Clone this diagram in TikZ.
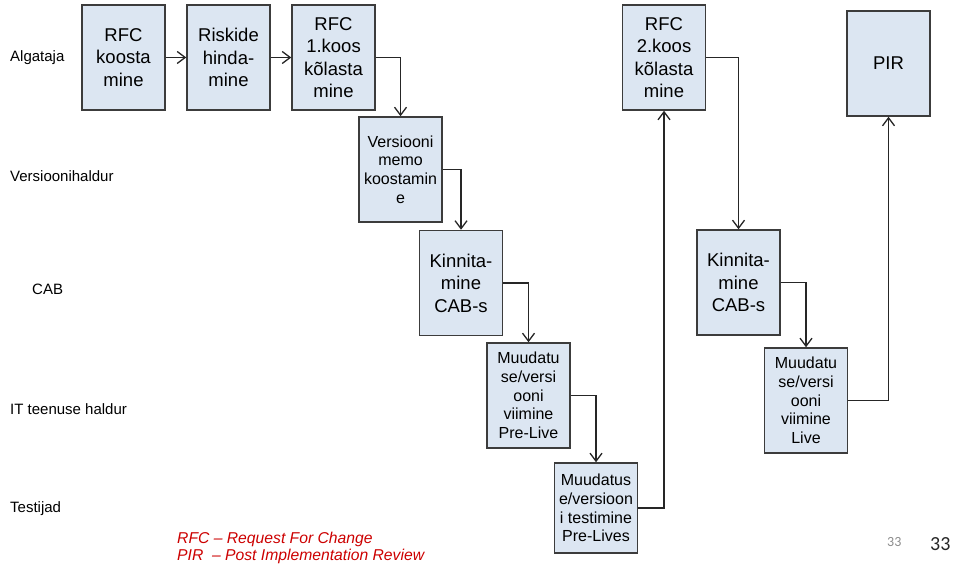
\documentclass[tikz,border=0pt]{standalone}
\usepackage{fontspec}
\setmainfont{Liberation Sans}
\newfontfamily\pagefont{Carlito}
\usetikzlibrary{arrows.meta}
\definecolor{boxfill}{RGB}{220,230,242}
\definecolor{boxline}{RGB}{60,60,60}
\definecolor{notered}{RGB}{204,0,0}
\begin{document}
\begin{tikzpicture}[x=1pt,y=-1pt,
  stepbox/.style={draw=boxline,line width=1.5pt,fill=boxfill,inner sep=0pt,
    minimum width=83pt,minimum height=105pt,align=center,
    font=\fontsize{18.5}{22.5}\selectfont},
  smallbox/.style={stepbox,font=\fontsize{16}{18.7}\selectfont},
  lane/.style={anchor=base west,inner sep=0pt,font=\fontsize{15}{18}\selectfont},
  flow/.style={line width=1.3pt,draw=black!85,-{Straight Barb[length=8pt,width=12pt,line width=1.3pt]}},
  note/.style={anchor=base west,inner sep=0pt,text=notered,
    font=\fontsize{15.7}{18}\selectfont\itshape}]
\useasboundingbox (0,0) rectangle (953,564);

% swimlane captions
\node[lane] (l1) at (10,62) {Algataja};
\node[lane] (l2) at (10,182) {Versioonihaldur};
\node[lane] (l3) at (32,294) {CAB};
\node[lane] (l4) at (10,414) {IT teenuse haldur};
\node[lane] (l5) at (10,512) {Testijad};

% process steps
\node[stepbox] (b1) at (123.5,57.5) {RFC\\koosta\\mine};
\node[stepbox] (b2) at (228.5,57.5) {Riskide\\hinda-\\mine};
\node[stepbox] (b3) at (333.5,57.5) {RFC\\1.koos\\kõlasta\\mine};
\node[smallbox] (b4) at (400.5,169.5) {Versiooni\\memo\\koostamin\\e};
\node[stepbox] (b5) at (461,283) {Kinnita-\\mine\\CAB-s};
\node[smallbox] (b6) at (528.5,395.5) {Muudatu\\se/versi\\ooni\\viimine\\Pre-Live};
\node[smallbox,minimum height=90pt] (b7) at (596,508) {Muudatus\\e/versioon\\i testimine\\Pre-Lives};
\node[stepbox] (b8) at (664,57.5) {RFC\\2.koos\\kõlasta\\mine};
\node[stepbox] (b9) at (738.5,282.5) {Kinnita-\\mine\\CAB-s};
\node[smallbox] (b10) at (806,400.5) {Muudatu\\se/versi\\ooni\\viimine\\Live};
\node[stepbox] (pir) at (888.5,63.5) {PIR};

% connectors
\draw[flow] (b1) -- (b2);
\draw[flow] (b2) -- (b3);
\draw[flow] (b3.east) -| (b4.north);
\draw[flow] (b4.east) -| (b5.north);
\draw[flow] (b5.east) -| (b6.north);
\draw[flow] (b6.east) -| (b7.north);
\draw[flow] (b7.east) -| (b8.south);
\draw[flow] (b8.east) -| (b9.north);
\draw[flow] (b9.east) -| (b10.north);
\draw[flow] (b10.east) -| (pir.south);

% abbreviations
\node[note] (n1) at (177,543) {RFC – Request For Change};
\node[note] (n2) at (177,560) {PIR \ – Post Implementation Review};

% page numbers
\node[anchor=base west,inner sep=0pt,text=black!45,font=\pagefont\fontsize{14}{16}\selectfont] (p1) at (887,546) {33};
\node[anchor=base west,inner sep=0pt,text=black!85,font=\pagefont\fontsize{20}{22}\selectfont] (p2) at (930,550) {33};
\end{tikzpicture}
\end{document}
